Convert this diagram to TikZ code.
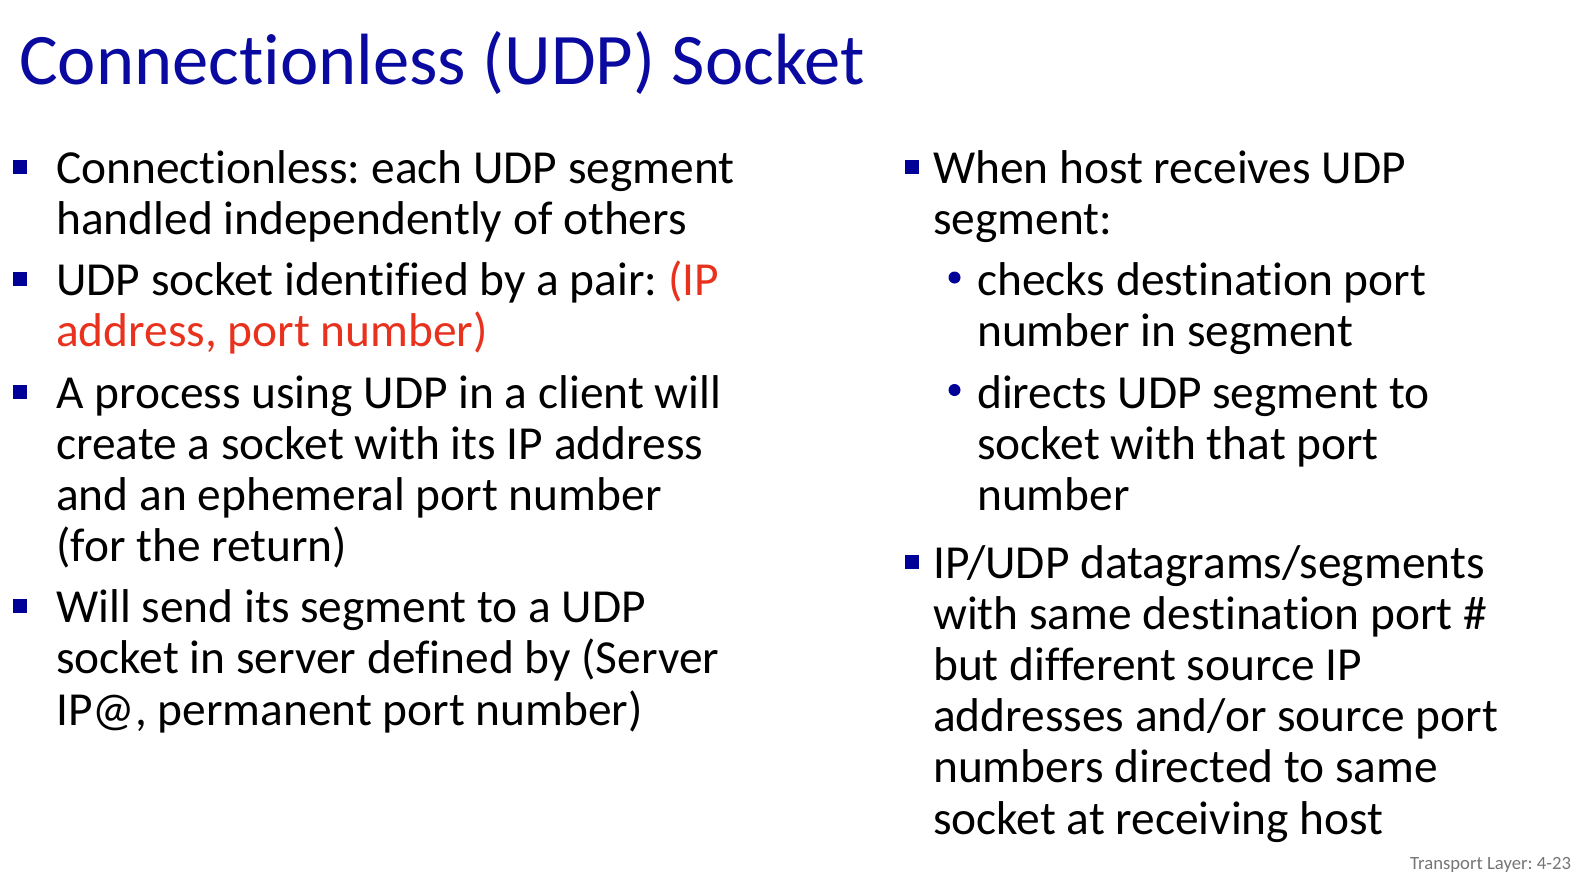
\documentclass[tikz,border=0pt]{standalone}
\usepackage{fontspec}
\setmainfont{Carlito}[Ligatures=CommonOff]
\definecolor{ttl}{RGB}{10,10,160}
\definecolor{bul}{RGB}{0,0,153}
\definecolor{redt}{RGB}{232,50,30}
\definecolor{foot}{RGB}{118,118,118}
\frenchspacing
\begin{document}
\begin{tikzpicture}[x=1pt,y=-1pt,
  line/.style={anchor=base west, inner sep=0pt, font=\fontsize{47.4}{51}\selectfont},
  sq/.style={fill=bul, minimum size=14pt, inner sep=0pt, draw=none, rectangle},
  dot/.style={circle, fill=bul, minimum size=12pt, inner sep=0pt, draw=none}]
\useasboundingbox (0,0) rectangle (1596,892);
\fill[white] (0,0) rectangle (1596,892);
% title
\node[anchor=base west, inner sep=0pt, font=\fontsize{72.6}{80}\selectfont, text=ttl] (title) at (19,84) {Connectionless (UDP) Socket};
% left column
\node[sq] (bl1) at (20,166.5) {};
\node[line] (l1a) at (56,183) {Connectionless: each UDP segment};
\node[line] (l1b) at (56,234.2) {handled independently of others};
\node[sq] (bl2) at (20,279) {};
\node[line] (l2a) at (56,295.5) {UDP socket identified by a pair: \textcolor{redt}{(IP}};
\node[line, text=redt] (l2b) at (56,346.7) {address, port number)};
\node[sq] (bl3) at (20,391.5) {};
\node[line] (l3a) at (56,408) {A process using UDP in a client will};
\node[line] (l3b) at (56,459.2) {create a socket with its IP address};
\node[line] (l3c) at (56,510.4) {and an ephemeral port number};
\node[line] (l3d) at (56,561.6) {(for the return)};
\node[sq] (bl4) at (20,606.1) {};
\node[line] (l4a) at (56,622.6) {Will send its segment to a UDP};
\node[line] (l4b) at (56,673.8) {socket in server defined by (Server};
\node[line] (l4c) at (56,725) {IP@, permanent port number)};
% right column
\node[sq] (br1) at (911.5,166.5) {};
\node[line] (r1a) at (933,183) {When host receives UDP};
\node[line] (r1b) at (933,234.2) {segment:};
\node[dot] (d1) at (954.5,277.5) {};
\node[line] (s1a) at (977,295.5) {checks destination port};
\node[line] (s1b) at (977,346.7) {number in segment};
\node[dot] (d2) at (954.5,390) {};
\node[line] (s2a) at (977,408) {directs UDP segment to};
\node[line] (s2b) at (977,459.2) {socket with that port};
\node[line] (s2c) at (977,510.4) {number};
\node[sq] (br2) at (911.5,561.5) {};
\node[line] (r2a) at (933,578) {IP/UDP datagrams/segments};
\node[line] (r2b) at (933,629.2) {with same destination port \#};
\node[line] (r2c) at (933,680.4) {but different source IP};
\node[line] (r2d) at (933,731.6) {addresses and/or source port};
\node[line] (r2e) at (933,782.8) {numbers directed to same};
\node[line] (r2f) at (933,834) {socket at receiving host};
% footer
\node[anchor=base west, inner sep=0pt, font=\fontsize{18.7}{20}\selectfont, text=foot] (foot) at (1410,869) {Transport Layer: 4-23};
\end{tikzpicture}
\end{document}
